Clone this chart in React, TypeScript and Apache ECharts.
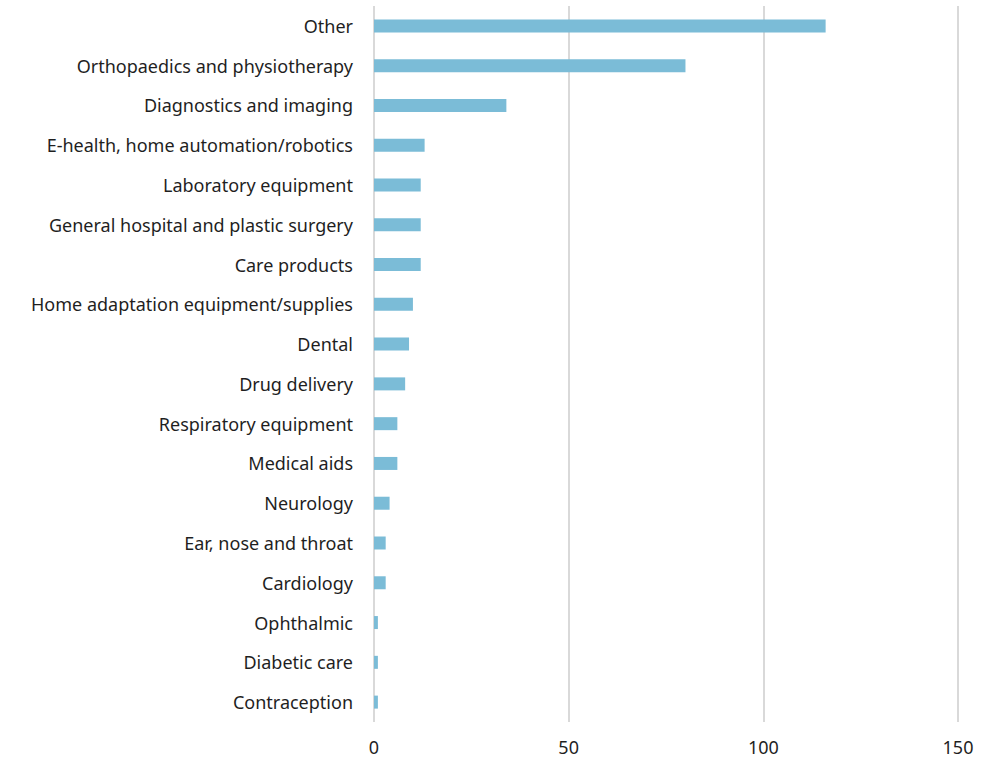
import React, { useEffect, useRef } from "react";
import * as echarts from "echarts";

const categories = [
  "Other",
  "Orthopaedics and physiotherapy",
  "Diagnostics and imaging",
  "E-health, home automation/robotics",
  "Laboratory equipment",
  "General hospital and plastic surgery",
  "Care products",
  "Home adaptation equipment/supplies",
  "Dental",
  "Drug delivery",
  "Respiratory equipment",
  "Medical aids",
  "Neurology",
  "Ear, nose and throat",
  "Cardiology",
  "Ophthalmic",
  "Diabetic care",
  "Contraception",
];
const values = [116, 80, 34, 13, 12, 12, 12, 10, 9, 8, 6, 6, 4, 3, 3, 1, 1, 1];
const xTicks = [0, 50, 100, 150];

export default function App() {
  const ref = useRef<HTMLDivElement>(null);
  useEffect(() => {
    const chart = echarts.init(ref.current!, null, { renderer: "svg" });
    chart.setOption({
      animation: false,
      backgroundColor: "#ffffff",
      grid: { left: 374, right: 23, top: 6, bottom: 36, containLabel: false },
      xAxis: {
        type: "value",
        min: xTicks[0],
        max: xTicks[xTicks.length - 1],
        interval: 50,
        axisLine: { show: false },
        axisTick: { show: false },
        axisLabel: {
          color: "#1f1f1f",
          fontSize: 18,
          fontFamily: "Noto Sans",
          margin: 16,
        },
        splitLine: { show: true, lineStyle: { color: "#d9d9d9", width: 2 } },
      },
      yAxis: {
        type: "category",
        data: categories,
        inverse: true,
        axisLine: { show: false },
        axisTick: { show: false },
        axisLabel: {
          color: "#1f1f1f",
          fontSize: 18,
          fontFamily: "Noto Sans",
          margin: 21,
        },
      },
      series: [
        {
          type: "bar",
          data: values,
          barWidth: 13,
          itemStyle: { color: "#7bbcd7" },
        },
      ],
    });
    return () => chart.dispose();
  }, []);
  return (
    <div
      ref={ref}
      style={{ position: "fixed", left: 0, top: 0, width: 981, height: 758 }}
    />
  );
}
